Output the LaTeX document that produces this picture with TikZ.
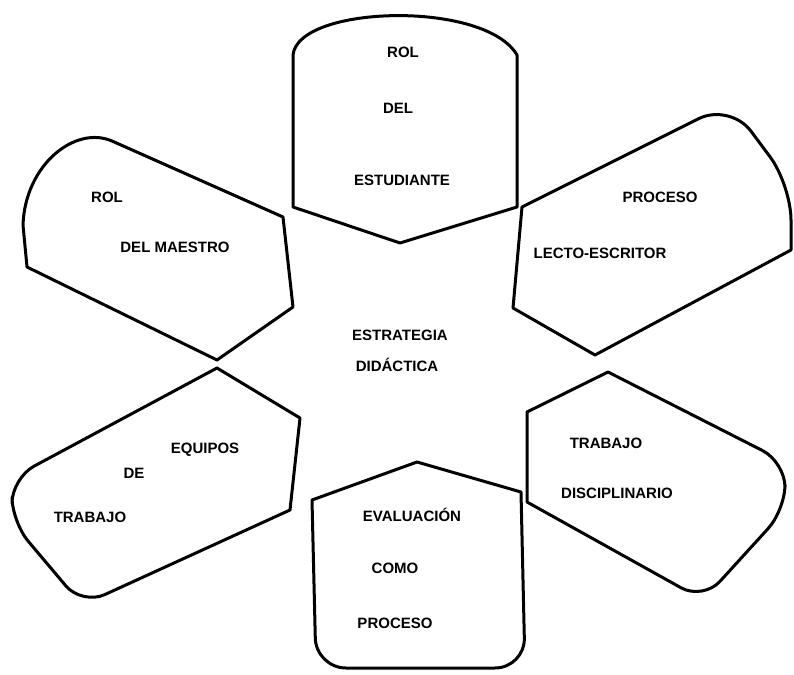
\documentclass[tikz,border=0pt]{standalone}
\usepackage{fontspec}
\setmainfont{Liberation Sans}

\tikzstyle{every node}=[font={\fontsize{15}{18}\selectfont\bfseries}, inner sep=1pt]
\tikzstyle{petal}=[line width=3pt, line join=round]

\begin{document}
\begin{tikzpicture}[x=1pt, y=-1pt]
    \useasboundingbox (0,0) rectangle (794,674);
    % petals
    \draw [petal] (400,243) -- (293,207) -- (293,55) .. controls (298,5) and (485,0) .. (517,55) -- (517,207) -- cycle;
    \draw [petal] (217,360) -- (293,307) -- (283,217) -- (112,141) .. controls (75,125) and (25,165) .. (23,225) -- (27,267) -- cycle;
    \draw [petal] (513,308) -- (522,207) [rounded corners=35pt] -- (730,103) -- (791,185) [sharp corners] -- (791,250) -- (595,355) -- cycle;
    \draw [petal] (527,502) -- (527,412) -- (608,372) [rounded corners=25pt] -- (785,462) -- (785,510) -- (703,600) [sharp corners] -- cycle;
    \draw [petal] (417,462) -- (312,500) [rounded corners=30pt] -- (316,668) -- (525,668) [sharp corners] -- (521,492) -- cycle;
    \draw [petal] (300,418) -- (290,510) [rounded corners=25pt] -- (82,605) -- (12,522) -- (12,478) [sharp corners] -- (217,368) -- cycle;

    \node (estrategia) at (400,335) {ESTRATEGIA};
    \node (didactica) at (397,365) {DIDÁCTICA};

    \node (rolEst) at (403,52) {ROL};
    \node (delEst) at (398,108) {DEL};
    \node (estudiante) at (402,180) {ESTUDIANTE};

    \node (rolMae) at (107,197) {ROL};
    \node (maestro) at (175,247) {DEL MAESTRO};

    \node (proceso) at (660,197) {PROCESO};
    \node (lecto) at (600,253) {LECTO-ESCRITOR};

    \node (trabajoDis) at (606,443) {TRABAJO};
    \node (disciplinario) at (617,493) {DISCIPLINARIO};

    \node (evaluacion) at (412,515) {EVALUACIÓN};
    \node (como) at (395,568) {COMO};
    \node (procesoEva) at (395,623) {PROCESO};

    \node (equipos) at (205,450) {EQUIPOS};
    \node (de) at (134,473) {DE};
    \node (trabajoEq) at (90,517) {TRABAJO};
\end{tikzpicture}
\end{document}
